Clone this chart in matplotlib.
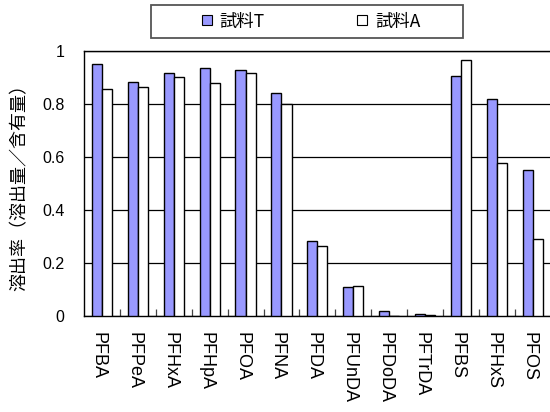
import matplotlib
matplotlib.use("Agg")
import matplotlib.pyplot as plt
import matplotlib.transforms as mtransforms
from matplotlib.lines import Line2D
from matplotlib.patches import Rectangle
import numpy as np

plt.rcParams['font.family'] = ['Liberation Sans', 'Noto Sans CJK JP', 'DejaVu Sans']

# Elution ratio per compound
compounds = ["PFBA", "PFPeA", "PFHxA", "PFHpA", "PFOA", "PFNA", "PFDA",
             "PFUnDA", "PFDoDA", "PFTrDA", "PFBS", "PFHxS", "PFOS"]
sample_t = [0.949, 0.883, 0.916, 0.936, 0.926, 0.842, 0.283,
            0.107, 0.017, 0.006, 0.905, 0.819, 0.551]
sample_a = [0.857, 0.862, 0.900, 0.879, 0.916, 0.799, 0.263,
            0.113, 0.0, 0.004, 0.964, 0.577, 0.289]
series_names = ["試料T", "試料A"]
y_ticks = [0, 0.2, 0.4, 0.6, 0.8, 1.0]
y_tick_labels = ["0", "0.2", "0.4", "0.6", "0.8", "1"]
y_label = "溶出率（溶出量／含有量）"

W, H = 550, 412
fig = plt.figure(figsize=(W / 100, H / 100), dpi=100)
ax = fig.add_axes([84 / W, (H - 315.7) / H, 466.7 / W, 265 / H])

x = np.arange(len(compounds))
bw = 0.28
blue = "#9999FF"
ax.bar(x - bw / 2, sample_t, bw, color=blue, edgecolor="black", linewidth=1.0, zorder=3)
ax.bar(x + bw / 2, sample_a, bw, color="white", edgecolor="black", linewidth=1.0, zorder=3)

ax.set_xlim(-0.5, len(compounds) - 0.5)
ax.set_ylim(0, 1)

# y axis
ax.set_yticks(y_ticks)
ax.set_yticklabels(y_tick_labels)
ax.tick_params(axis="y", length=0, pad=14, labelsize=11.5)
ax.yaxis.grid(True, color="black", linewidth=0.9)
ax.set_axisbelow(True)

# x axis: inward ticks between categories, labels at category centers
ax.set_xticks(np.arange(0.5, len(compounds) - 1, 1.0))
ax.set_xticklabels([])
ax.tick_params(axis="x", which="major", direction="in", length=5, width=0.9, color="#444444")
ax.set_xticks(x, minor=True)
ax.set_xticklabels(compounds, minor=True, rotation=-90, fontsize=13, va="top", ha="center")
ax.tick_params(axis="x", which="minor", length=0, pad=12)
shift = mtransforms.ScaledTranslation(-4 / 100, 0, fig.dpi_scale_trans)
for lbl in ax.get_xticklabels(minor=True):
    lbl.set_transform(lbl.get_transform() + shift)

for side in ["left", "bottom", "top"]:
    ax.spines[side].set_color("black")
    ax.spines[side].set_linewidth(1.0)
ax.spines["right"].set_visible(False)

ax.set_ylabel(y_label, fontsize=13, family=['Noto Sans CJK JP', 'DejaVu Sans'])
ax.yaxis.set_label_coords(-0.118, 0.5)

# legend box
fig.patches.append(Rectangle((151 / W, (H - 38) / H), 312 / W, 33 / H,
                             transform=fig.transFigure, facecolor="white",
                             edgecolor="#555555", linewidth=1.3))
handles = [
    Line2D([], [], linestyle="none", marker="s", markersize=6.5,
           markerfacecolor=blue, markeredgecolor="black", markeredgewidth=0.8),
    Line2D([], [], linestyle="none", marker="s", markersize=6.5,
           markerfacecolor="white", markeredgecolor="black", markeredgewidth=0.8),
]
fig.legend(handles, series_names, loc="center", bbox_to_anchor=(310 / W, 1 - 21.5 / H),
           ncol=2, frameon=False, handlelength=0.8, handletextpad=0.35,
           columnspacing=5.2, prop={"family": ['Noto Sans CJK JP', 'DejaVu Sans'], "size": 12.5})

fig.savefig("out.png", dpi=100)
